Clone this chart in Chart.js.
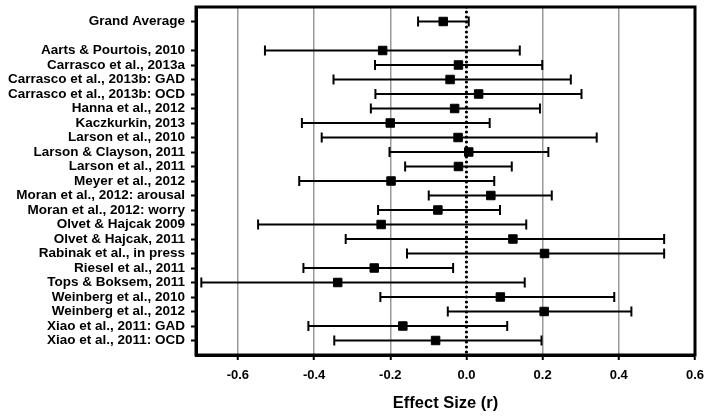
<!DOCTYPE html>
<html>
<head>
<meta charset="utf-8">
<script src="https://cdn.jsdelivr.net/npm/chart.js@4/dist/chart.umd.min.js"></script>
<style>
  html, body { margin: 0; padding: 0; background: #fff; }
  #wrap { width: 708px; height: 417px; }
</style>
</head>
<body>
<div id="wrap"><canvas id="forest"></canvas></div>
<script>
// study names, top to bottom (row 1 is an empty spacer row)
const studies = [
	"Grand Average",
	"Aarts & Pourtois, 2010",
	"Carrasco et al., 2013a",
	"Carrasco et al., 2013b: GAD",
	"Carrasco et al., 2013b: OCD",
	"Hanna et al., 2012",
	"Kaczkurkin, 2013",
	"Larson et al., 2010",
	"Larson & Clayson, 2011",
	"Larson et al., 2011",
	"Meyer et al., 2012",
	"Moran et al., 2012: arousal",
	"Moran et al., 2012: worry",
	"Olvet & Hajcak 2009",
	"Olvet & Hajcak, 2011",
	"Rabinak et al., in press",
	"Riesel et al., 2011",
	"Tops & Boksem, 2011",
	"Weinberg et al., 2010",
	"Weinberg et al., 2012",
	"Xiao et al., 2011: GAD",
	"Xiao et al., 2011: OCD",
];
const rows = [0, 2, 3, 4, 5, 6, 7, 8, 9, 10, 11, 12, 13, 14, 15, 16, 17, 18, 19, 20, 21, 22];
const effect = [-0.061, -0.220, -0.021, -0.043, 0.032, -0.031, -0.200, -0.022, 0.006, -0.021, -0.198,
	0.064, -0.075, -0.224, 0.122, 0.205, -0.242, -0.338, 0.089, 0.204, -0.167, -0.081];
const lower = [-0.127, -0.529, -0.240, -0.349, -0.239, -0.251, -0.432, -0.380, -0.202, -0.161, -0.439,
	-0.099, -0.232, -0.547, -0.317, -0.156, -0.428, -0.696, -0.226, -0.049, -0.415, -0.347];
const upper = [0.006, 0.140, 0.199, 0.274, 0.302, 0.193, 0.061, 0.342, 0.215, 0.119, 0.073,
	0.224, 0.088, 0.157, 0.519, 0.519, -0.035, 0.153, 0.388, 0.433, 0.107, 0.197];
const xTicks = [-0.6, -0.4, -0.2, 0.0, 0.2, 0.4, 0.6];

const FONT = "'Liberation Sans', Arial, sans-serif";

//one line dataset per confidence interval, caps drawn as rotated line points
let datasets = [];
for (let i = 0; i < rows.length; i++) {
	datasets.push({
		type: "line",
		data: [{ x: lower[i], y: rows[i] }, { x: upper[i], y: rows[i] }],
		borderColor: "#000",
		borderWidth: 2,
		pointStyle: "line",
		pointRotation: 90,
		pointRadius: 5,
		pointBorderWidth: 2,
		pointBorderColor: "#000",
		order: 2,
	});
}

//no-effect reference line (dotted)
datasets.push({
	type: "line",
	data: [{ x: 0, y: -1 }, { x: 0, y: 23 }],
	borderColor: "#000",
	borderWidth: 3.2,
	borderDash: [0, 5],
	borderCapStyle: "round",
	pointRadius: 0,
	order: 3,
});

//effect size squares
datasets.push({
	type: "scatter",
	data: rows.map((r, i) => ({ x: effect[i], y: r })),
	backgroundColor: "#000",
	borderColor: "#000",
	pointStyle: "rect",
	pointRadius: 6,
	pointBorderWidth: 1,
	order: 1,
});

//frame around the plot area
const frame = {
	id: "frame",
	afterDatasetsDraw(chart) {
		const a = chart.chartArea;
		const ctx = chart.ctx;
		ctx.save();
		ctx.strokeStyle = "#000";
		ctx.lineWidth = 3;
		ctx.strokeRect(a.left, a.top, a.right - a.left, a.bottom - a.top);
		ctx.restore();
	},
};

new Chart(document.getElementById("forest"), {
	data: { datasets: datasets },
	plugins: [frame],
	options: {
		responsive: true,
		maintainAspectRatio: false,
		animation: false,
		layout: { padding: { top: 4, right: 13, left: 0, bottom: 0 } },
		plugins: { legend: { display: false }, tooltip: { enabled: false } },
		scales: {
			x: {
				type: "linear",
				min: -0.71,
				max: 0.6,
				afterBuildTicks: (s) => { s.ticks = xTicks.map((v) => ({ value: v })); },
				afterFit: (s) => { s.height = 62; s.paddingLeft = 0; s.paddingRight = 0; },
				ticks: {
					color: "#000",
					font: { family: FONT, size: 13, weight: "bold" },
					padding: 8,
					callback: (v) => Number(v).toFixed(1),
				},
				grid: {
					color: (c) => (c.tick && Math.abs(c.tick.value) < 1e-9 ? "rgba(0,0,0,0)" : "#9a9a9a"),
					lineWidth: 1.5,
					tickColor: "#000",
					tickLength: 5,
					tickWidth: 2,
				},
				border: { color: "#000", width: 3 },
				title: {
					display: true,
					text: "Effect Size (r)",
					color: "#000",
					font: { family: FONT, size: 16.5, weight: "bold" },
					padding: { top: 9 },
				},
			},
			y: {
				type: "linear",
				min: -1,
				max: 23,
				reverse: true,
				afterBuildTicks: (s) => { s.ticks = rows.map((v) => ({ value: v })); },
				afterFit: (s) => { s.width = 196; s.paddingTop = 0; s.paddingBottom = 0; },
				ticks: {
					color: "#000",
					font: { family: FONT, size: 13.5, weight: "bold" },
					padding: 6,
					autoSkip: false,
					callback: (v) => studies[rows.indexOf(v)],
				},
				grid: {
					drawOnChartArea: false,
					tickColor: "#000",
					tickLength: 5,
					tickWidth: 2,
				},
				border: { color: "#000", width: 3 },
			},
		},
	},
});
</script>
</body>
</html>
